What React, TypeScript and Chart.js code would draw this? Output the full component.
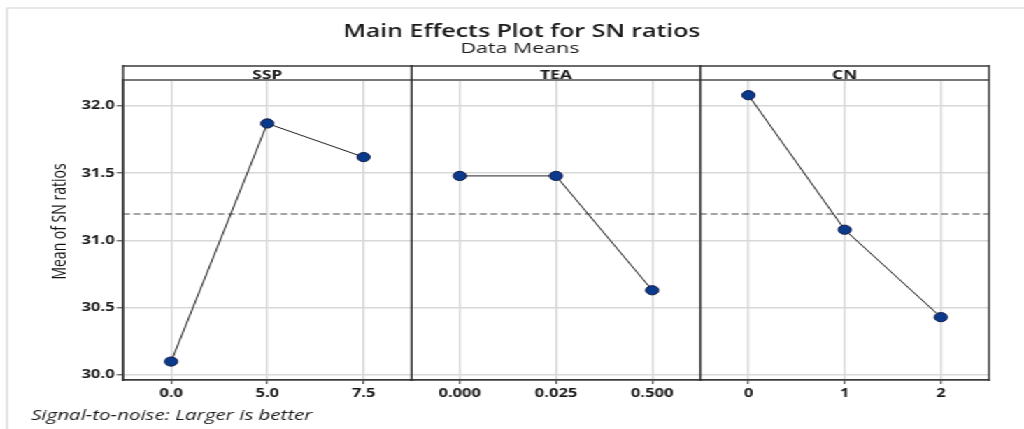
import React, { useEffect, useRef } from "react";
import { Chart, registerables } from "chart.js";

Chart.register(...registerables);

// ---------- data ----------
const factorNames = ["SSP", "TEA", "CN"];
const sspLevels = ["0.0", "5.0", "7.5"];
const teaLevels = ["0.000", "0.025", "0.500"];
const cnLevels = ["0", "1", "2"];
const sspMeans = [30.1, 31.87, 31.62];
const teaMeans = [31.48, 31.48, 30.63];
const cnMeans = [32.08, 31.08, 30.43];
const yTicks = [30.0, 30.5, 31.0, 31.5, 32.0];
const yMin = 29.963;
const yMax = 32.193;
const titleText = "Main Effects Plot for SN ratios";
const subtitleText = "Data Means";
const yTitleText = "Mean of SN ratios";
const footnoteText = "Signal-to-noise: Larger is better";

const allMeans = [...sspMeans, ...teaMeans, ...cnMeans];
const grandMean = allMeans.reduce((a, b) => a + b, 0) / allMeans.length;

// ---------- layout (unscaled canvas, stretched horizontally like the reference) ----------
const W = 732;
const H = 429;
const SX = 1024 / W;
const PLOT_LEFT = 123 / SX;
const PLOT_RIGHT = 989 / SX;
const PLOT_TOP = 80;
const PLOT_BOTTOM = 380;
const HEADER_TOP = 66;
const FONT = "'Open Sans', 'DejaVu Sans', sans-serif";

const decorPlugin = {
  id: "decor",
  beforeDatasetsDraw(chart: any) {
    const { ctx, chartArea } = chart;
    const y = chart.scales.y.getPixelForValue(grandMean);
    ctx.save();
    ctx.strokeStyle = "#4a4a4a";
    ctx.lineWidth = 1.1;
    ctx.setLineDash([5, 2.5]);
    ctx.beginPath();
    ctx.moveTo(chartArea.left, y);
    ctx.lineTo(chartArea.right, y);
    ctx.stroke();
    ctx.restore();
  },
  afterDraw(chart: any) {
    const { ctx, chartArea } = chart;
    const axes = ["x1", "x2", "x3"].map((id) => chart.scales[id]);
    ctx.save();
    // outer light frame
    ctx.strokeStyle = "#d2d2d2";
    ctx.lineWidth = 1.2;
    ctx.beginPath();
    ctx.moveTo(5, H + 5);
    ctx.lineTo(5, 8);
    ctx.lineTo(W + 5, 8);
    ctx.stroke();

    // header strip
    ctx.strokeStyle = "#6a6a6a";
    ctx.lineWidth = 2;
    ctx.beginPath();
    ctx.moveTo(chartArea.left, HEADER_TOP);
    ctx.lineTo(chartArea.right, HEADER_TOP);
    ctx.stroke();
    ctx.strokeStyle = "#777";
    ctx.beginPath();
    ctx.moveTo(chartArea.left, chartArea.top);
    ctx.lineTo(chartArea.right, chartArea.top);
    ctx.stroke();

    // panel verticals
    ctx.strokeStyle = "#333";
    ctx.lineWidth = 1.4;
    ctx.beginPath();
    ctx.moveTo(chartArea.left, HEADER_TOP - 1);
    ctx.lineTo(chartArea.left, chartArea.bottom + 1);
    axes.forEach((a: any) => {
      ctx.moveTo(a.right, HEADER_TOP - 1);
      ctx.lineTo(a.right, chartArea.bottom + 1);
    });
    ctx.stroke();

    // header labels
    ctx.fillStyle = "#1a1a1a";
    ctx.font = `700 12.5px ${FONT}`;
    ctx.textAlign = "center";
    ctx.textBaseline = "alphabetic";
    axes.forEach((a: any, i: number) => {
      ctx.fillText(factorNames[i], (a.left + a.right) / 2, 78.5);
    });

    // titles
    ctx.font = `600 17.8px ${FONT}`;
    ctx.fillText(titleText, 521.7 / SX, 36.7);
    ctx.font = `400 15.3px ${FONT}`;
    ctx.fillText(subtitleText, 520 / SX, 52.7);

    // y axis title
    ctx.save();
    ctx.translate(46.5, 221.5);
    ctx.rotate(-Math.PI / 2);
    ctx.font = `500 14px ${FONT}`;
    ctx.fillStyle = "#111";
    ctx.textAlign = "center";
    ctx.fillText(yTitleText, 0, 0);
    ctx.restore();

    // footnote
    ctx.font = `italic 400 14.7px ${FONT}`;
    ctx.textAlign = "left";
    ctx.fillText(footnoteText, 31 / SX, 419.5);
    ctx.restore();
  },
};

const tickFont = { family: FONT, size: 11.8, weight: "700" as const };

function xAxis(labels: string[]) {
  return {
    type: "category" as const,
    position: "bottom" as const,
    stack: "panels",
    stackWeight: 1,
    labels,
    offset: true,
    afterFit(scale: any) {
      scale.height = H - PLOT_BOTTOM;
    },
    grid: {
      offset: false,
      color: "#d6d6d6",
      lineWidth: 1.4,
      tickColor: "#333",
      tickLength: 4,
      tickWidth: 1,
    },
    border: { display: true, color: "#3a3a3a", width: 1.7 },
    ticks: {
      font: tickFont,
      color: "#1a1a1a",
      padding: 2.5,
      maxRotation: 0,
      autoSkip: false,
    },
  };
}

function makeDataset(values: number[], axisId: string) {
  return {
    data: values,
    xAxisID: axisId,
    yAxisID: "y",
    borderColor: "#1e1e1e",
    borderWidth: 1,
    pointRadius: 4.6,
    pointBackgroundColor: "#0a3a8c",
    pointBorderColor: "#111a44",
    pointBorderWidth: 1,
    tension: 0,
    fill: false,
    clip: false as any,
  };
}

export default function App() {
  const canvasRef = useRef<HTMLCanvasElement | null>(null);

  useEffect(() => {
    const canvas = canvasRef.current;
    if (!canvas) return;
    const chart = new Chart(canvas, {
      type: "line",
      data: {
        datasets: [
          makeDataset(sspMeans, "x1"),
          makeDataset(teaMeans, "x2"),
          makeDataset(cnMeans, "x3"),
        ],
      },
      options: {
        responsive: false,
        animation: false,
        devicePixelRatio: 1,
        layout: {
          padding: { left: 0, top: PLOT_TOP, right: W - PLOT_RIGHT, bottom: 0 },
        },
        plugins: {
          legend: { display: false },
          tooltip: { enabled: false },
          title: { display: false },
        },
        scales: {
          x1: xAxis(sspLevels),
          x2: xAxis(teaLevels),
          x3: xAxis(cnLevels),
          y: {
            type: "linear",
            position: "left",
            min: yMin,
            max: yMax,
            afterFit(scale: any) {
              scale.width = PLOT_LEFT;
            },
            afterBuildTicks(scale: any) {
              scale.ticks = yTicks.map((v) => ({ value: v }));
            },
            grid: {
              color: "#d8d8d8",
              lineWidth: 1.6,
              tickColor: "#333",
              tickLength: 4.5,
              tickWidth: 1,
            },
            border: { display: true, color: "#333", width: 1.4 },
            ticks: {
              font: tickFont,
              color: "#1a1a1a",
              padding: 1.5,
              callback: (v: any) => Number(v).toFixed(1),
            },
          },
        },
      } as any,
      plugins: [decorPlugin],
    });
    return () => chart.destroy();
  }, []);

  return (
    <div
      style={{
        position: "fixed",
        left: 0,
        top: 0,
        width: W,
        height: H,
        background: "#fff",
        transform: `scaleX(${SX})`,
        transformOrigin: "0 0",
      }}
    >
      <canvas ref={canvasRef} width={W} height={H} style={{ display: "block" }} />
    </div>
  );
}
